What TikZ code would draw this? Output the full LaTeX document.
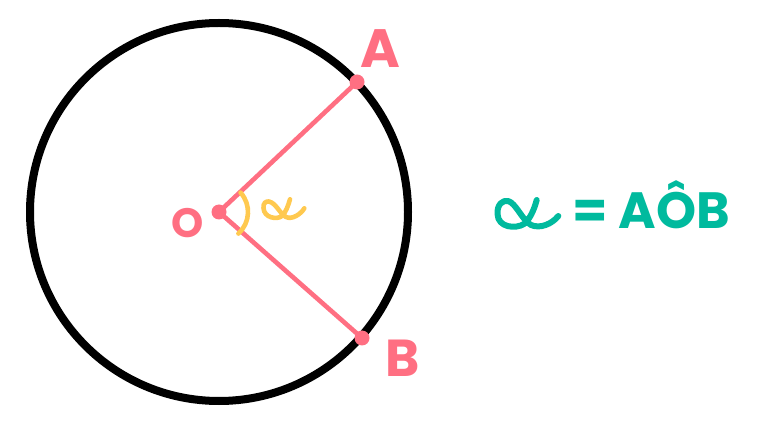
\documentclass[tikz,border=0pt]{standalone}
\usepackage{fontspec}
\setmainfont{Poppins}[BoldFont={* Bold}]
\definecolor{pinkc}{HTML}{FF6F82}
\definecolor{yellowc}{HTML}{FFC94F}
\definecolor{tealc}{HTML}{00BA9E}
\begin{document}
\begin{tikzpicture}[x=1pt,y=-1pt,
  lbl/.style={inner sep=0pt,anchor=base,text=pinkc,font=\bfseries},
  seg/.style={draw=pinkc,line width=4.6pt},
  dotp/.style={circle,fill=pinkc,inner sep=0pt,minimum size=15pt},
  ystroke/.style={draw=yellowc,line width=4.6pt,line cap=round,line join=round},
  tstroke/.style={draw=tealc,line width=6pt,line cap=round,line join=round}]
\useasboundingbox (0,0) rectangle (784,427);
\coordinate (O) at (219,212);
\coordinate (A) at (357,82);
\coordinate (B) at (362,338);
\draw[line width=8pt] (O) circle[radius=189];
\draw[seg] (O) -- (A);
\draw[seg] (O) -- (B);
\node[dotp] (Od) at (O) {};
\node[dotp] (Ad) at (A) {};
\node[dotp] (Bd) at (B) {};
\draw[ystroke] ([shift={(-42:29)}]O) arc[start angle=-42,end angle=48,radius=29];
\node[lbl,font=\bfseries\fontsize{54}{54}\selectfont] (LA) at (380,68) {A};
\node[lbl,font=\bfseries\fontsize{52}{52}\selectfont] (LB) at (403,377) {B};
\node[lbl,font=\bfseries\fontsize{41}{41}\selectfont] (LO) at (187.5,238) {O};
% yellow alpha
\draw[ystroke] (290,199.3) .. controls (288,206) and (286,212) .. (282,216)
  .. controls (277,220) and (264,218) .. (263.5,208)
  .. controls (263,203) and (266,201) .. (269,201.5)
  .. controls (276,203) and (280,214) .. (286,217)
  .. controls (292,220) and (301,214) .. (304.3,208.3);
% teal alpha
\draw[tstroke] (536.7,200) .. controls (534,210) and (530,219) .. (524,224)
  .. controls (516,229) and (498,228) .. (497.5,214)
  .. controls (497,204) and (503,200) .. (508,201)
  .. controls (516,203) and (522,220) .. (531,225)
  .. controls (540,229) and (552,224) .. (558.3,216);
\node[inner sep=0pt,anchor=base west,text=tealc,font=\bfseries\fontsize{51}{51}\selectfont] (eq) at (572,229) {= AÔB};
\end{tikzpicture}
\end{document}
